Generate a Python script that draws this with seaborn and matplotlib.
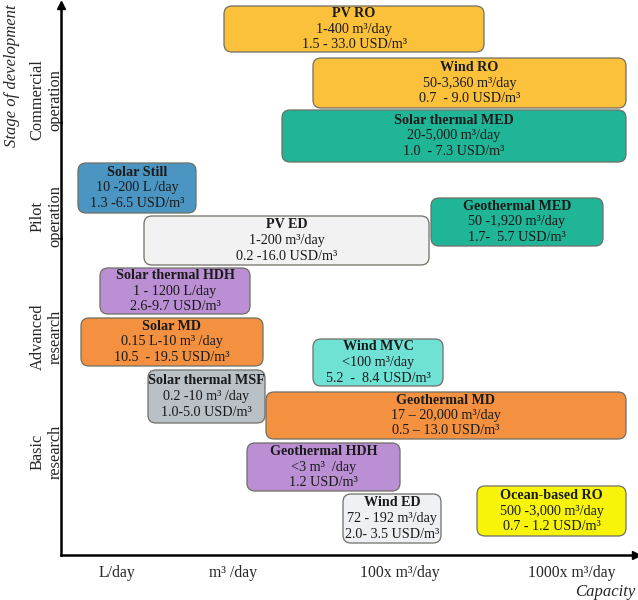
import numpy as np
import pandas as pd
import matplotlib
matplotlib.use("Agg")
import matplotlib.pyplot as plt
from matplotlib.patches import FancyBboxPatch
import seaborn as sns

# technologies, their capacity span (x, on the capacity axis) and stage span (y)
names = ["PV RO", "Wind RO", "Solar thermal MED", "Solar Still", "Geothermal MED",
         "PV ED", "Solar thermal HDH", "Solar MD", "Wind MVC", "Solar thermal MSF",
         "Geothermal MD", "Geothermal HDH", "Wind ED", "Ocean-based RO"]
cap_lo = [163, 252, 221, 17, 370, 83, 39, 20, 252, 87, 205, 186, 282, 416]
cap_hi = [423, 565, 565, 135, 542, 368, 189, 202, 382, 204, 565, 339, 380, 565]
stage_lo = [503, 447, 393, 342, 309, 290, 241, 189, 169, 132, 116, 64, 12, 19]
stage_hi = [549, 497, 445, 392, 357, 339, 287, 237, 216, 185, 163, 112, 61, 69]
capacity = ["1-400 m³/day", "50-3,360 m³/day", "20-5,000 m³/day", "10 -200 L /day",
            "50 -1,920 m³/day", "1-200 m³/day", "1 - 1200 L/day", "0.15 L-10 m³ /day",
            "<100 m³/day", "0.2 -10 m³ /day", "17 – 20,000 m³/day", "<3 m³  /day",
            "72 - 192 m³/day", "500 -3,000 m³/day"]
cost = ["1.5 - 33.0 USD/m³", "0.7  - 9.0 USD/m³", "1.0  - 7.3 USD/m³", "1.3 -6.5 USD/m³",
        "1.7-  5.7 USD/m³", "0.2 -16.0 USD/m³", "2.6-9.7 USD/m³", "10.5  - 19.5 USD/m³",
        "5.2  -  8.4 USD/m³", "1.0-5.0 USD/m³", "0.5 – 13.0 USD/m³", "1.2 USD/m³",
        "2.0- 3.5 USD/m³", "0.7 - 1.2 USD/m³"]

x_ticks = [56, 172, 339, 511]
x_labels = ["L/day", "m³ /day", "100x m³/day", "1000x m³/day"]
y_ticks = [103, 218, 339, 455]
y_labels = ["Basic\nresearch", "Advanced\nresearch", "Pilot\noperation", "Commercial\noperation"]

colors = ["#fcc13a", "#fcc13a", "#1fb596", "#4a95c2", "#1fb596", "#f2f2f2", "#bb8fd4",
          "#f39140", "#6fe2d5", "#b9c0c6", "#f39140", "#bb8fd4", "#eef0f3", "#f7f40a"]

df = pd.DataFrame({"name": names, "lo": cap_lo, "hi": cap_hi, "bot": stage_lo,
                   "top": stage_hi, "capacity": capacity, "cost": cost, "color": colors})

sns.set_theme(style="white")
plt.rcParams["font.family"] = ["Liberation Serif", "DejaVu Serif"]

fig = plt.figure(figsize=(6.38, 6.0), dpi=100)
ax = fig.add_axes([61 / 638, 45 / 600, 575 / 638, 550 / 600])
ax.set_xlim(0, 575)
ax.set_ylim(0, 550)

for _, r in df.iterrows():
    box = FancyBboxPatch((r["lo"], r["bot"]), r["hi"] - r["lo"], r["top"] - r["bot"],
                         boxstyle="round,pad=0,rounding_size=8",
                         facecolor=r["color"], edgecolor="#6f6f66", linewidth=0.9)
    ax.add_patch(box)
    cx = (r["lo"] + r["hi"]) / 2
    cy = (r["bot"] + r["top"]) / 2
    ax.text(cx, cy + 15.5, r["name"], ha="center", va="center", fontsize=10.2,
            fontweight="bold", color="#1a1a1a")
    ax.text(cx, cy, r["capacity"], ha="center", va="center", fontsize=10.2, color="#1a1a1a")
    ax.text(cx, cy - 15.5, r["cost"], ha="center", va="center", fontsize=10.2, color="#1a1a1a")

sns.despine(ax=ax)
for s in ["left", "bottom"]:
    ax.spines[s].set_linewidth(1.8)
    ax.spines[s].set_color("black")

ax.plot([0], [550], marker="^", color="black", markersize=6, clip_on=False)
ax.plot([575], [0], marker=">", color="black", markersize=6, clip_on=False)

ax.set_xticks(x_ticks)
ax.set_xticklabels(x_labels, fontsize=11.3)
ax.set_yticks(y_ticks)
ax.set_yticklabels(y_labels, fontsize=11.8, rotation=90, va="center", multialignment="center")
ax.tick_params(direction="in", length=9, width=1.8, color="black")
ax.tick_params(axis="x", pad=7)
ax.tick_params(axis="y", pad=-2)

fig.text(12 / 638, 1 - 4 / 600, "Stage of development", rotation=90, ha="center", va="top",
         fontsize=12, style="italic")
fig.text(635 / 638, 1 - 592 / 600, "Capacity", ha="right", va="center",
         fontsize=12, style="italic")

fig.savefig("out.png", dpi=100)
